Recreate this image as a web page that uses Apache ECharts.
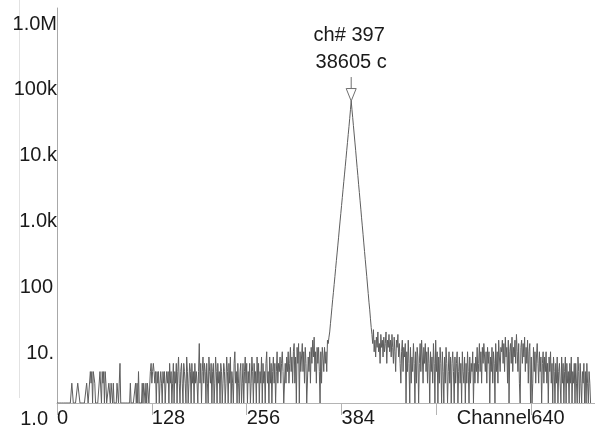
<!DOCTYPE html>
<html>
<head>
<meta charset="utf-8">
<script src="https://cdn.jsdelivr.net/npm/echarts@6/dist/echarts.min.js"></script>
<style>
  html, body { margin: 0; padding: 0; background: #ffffff; }
  #chart { width: 595px; height: 429px; }
</style>
</head>
<body>
<div id="chart"></div>
<script>
// ---- data (counts per channel) ----
// channels 0-149
const lowNoise = [
  1,1,1,1,1,1,1,1,1,1, 1,1,1,1,1,1,1,1,1,1,
  2,2,1,1,1,1,1,1,2,2,
  2,1,1,1,1,1,1,1,1,1,
  2,2,1,1,1,3,2,3,1,3,
  3,2,1,1,1,1,1,1,3,3,
  1,3,2,3,1,3,2,1,1,1,
  2,2,1,2,2,1,2,1,1,1,
  1,2,2,1,2,4,1,1,1,1,
  1,1,1,1,1,1,1,1,1,2,
  1,1,1,1,1,1,2,1,2,1,
  3,1,1,1,1,2,1,2,2,1,
  2,1,2,2,1,1,3,4,2,3,
  4,3,2,3,1,3,2,3,1,2,
  3,2,1,3,2,3,1,2,3,2
];
// channels 150-299
const midNoise = [
  3,1,4,2,3,1,2,4,1,3,
  2,4,1,3,5,2,1,3,4,2,
  1,4,3,2,1,5,3,1,2,4,
  3,1,4,2,3,1,4,2,3,2,
  1,3,8,2,4,1,3,5,2,4,
  3,1,4,2,1,5,3,2,4,1,
  3,4,1,2,5,3,1,4,2,3,
  1,4,3,1,2,4,3,1,2,5,
  3,1,4,2,5,1,3,2,1,4,
  6,2,3,1,4,2,1,3,4,1,
  2,4,1,3,5,2,4,1,3,2,
  4,1,2,5,3,1,4,2,3,1,
  5,2,4,1,3,2,5,1,4,2,
  3,1,4,6,2,3,1,5,2,4,
  1,3,5,2,4,1,3,6,2,4
];
// channels 300-367
const preRise = [
  3,5,2,4,6,3,1,1,4,2,
  5,3,6,2,4,7,3,5,2,6,
  8,2,5,1,7,4,8,1,6,3,
  5,8,3,6,2,7,4,1,1,5,
  3,6,2,7,4,9,5,10,3,6,
  2,7,4,7,3,1,6,2,7,5,
  3,7,4,6,3,9,8,10
];
// channels 368-425 (the peak)
const peak = [
  12,16,21,28,37,48,63,83,110,145,
  190,250,330,440,580,760,1000,1320,1740,2300,
  3000,3950,5200,6900,9100,12000,15800,21000,28500,38605,
  29000,21800,16300,12200,9200,6900,5100,3800,2850,2100,
  1580,1180,880,650,490,365,270,200,150,112,
  84,62,46,34,26,19,14,11
];
// channels 426-599
const tailNoise = [
  8,13,6,9,
  5,10,7,12,6,8,4,11,7,9,
  5,10,6,8,12,4,9,7,11,6,
  9,5,11,7,4,10,6,3,9,7,
  11,5,8,4,2,6,9,3,7,5,
  8,1,6,3,9,4,1,7,2,5,
  3,8,4,1,6,2,7,5,1,4,
  8,3,9,5,2,7,4,8,3,6,
  2,7,4,1,6,3,5,2,8,4,
  1,9,3,6,1,5,2,7,4,1,
  6,3,1,5,2,7,4,1,3,6,
  2,5,1,4,6,3,1,5,2,4,
  6,1,3,5,2,4,1,6,3,2,
  5,1,4,2,6,3,1,5,2,4,
  3,6,1,4,2,5,3,7,2,4,
  8,3,6,2,7,4,8,5,3,6,
  2,7,4,6,1,5,3,7,2,6,
  4,1,8,3,6,2,9,5,3,7
];
// channels 600-720
const highNoise = [
  6,9,4,8,3,10,5,7,2,9,
  1,6,8,4,10,3,7,5,9,4,
  11,6,3,8,2,1,7,9,4,8,
  5,10,3,7,4,9,2,6,8,1,
  5,1,2,7,3,6,2,5,8,4,
  2,6,3,5,1,4,6,2,5,3,
  6,2,4,1,5,3,6,2,4,1,
  5,3,1,4,2,5,1,3,4,2,
  1,5,2,4,1,3,5,1,4,2,
  3,1,4,2,5,1,3,2,4,1,
  4,2,1,5,3,1,4,2,1,3,
  2,4,1,3,1,4,2,1,3,2,
  1
];

const peakChannel = 397;
const peakCount = 38605;

const xTickValues = [0, 128, 256, 384, 512, 640];
const xTickLabels = ['0', '128', '256', '384', '', '640'];
const xAxisName = 'Channel';
const yTickValues = [1, 10, 100, 1000, 10000, 100000, 1000000];
const yTickLabels = ['1.0', '10.', '100', '1.0k', '10.k', '100k', '1.0M'];

// ---- build series ----
const counts = [].concat(lowNoise, midNoise, preRise, peak, tailNoise, highNoise);
const seriesData = counts.map((c, i) => [i, c]);

const FONT = 'Liberation Sans, Arial, sans-serif';
const TXT = '#1a1a1a';
const baseRich = { fontSize: 20, fontFamily: FONT, color: TXT };
const yRightPad = { '1.0': 9, '10.': 3, '100': 4 };

const chart = echarts.init(document.getElementById('chart'), null, { renderer: 'canvas' });

chart.setOption({
  animation: false,
  backgroundColor: '#ffffff',
  grid: { left: 57, right: 0, top: 8, bottom: 24, containLabel: false },
  xAxis: {
    type: 'value',
    min: 0,
    max: 726,
    interval: 128,
    splitLine: { show: false },
    axisLine: { show: true, lineStyle: { color: '#b4b4b4', width: 1 } },
    axisTick: {
      show: true, inside: false, length: 12,
      customValues: xTickValues,
      lineStyle: { color: '#b4b4b4', width: 1 }
    },
    axisLabel: {
      show: true,
      customValues: xTickValues,
      align: 'left',
      verticalAlign: 'top',
      margin: 5,
      fontSize: 20,
      fontFamily: FONT,
      color: TXT,
      showMinLabel: true,
      showMaxLabel: true,
      hideOverlap: false,
      formatter: function (v) {
        const i = xTickValues.indexOf(v);
        return i >= 0 ? xTickLabels[i] : '';
      }
    }
  },
  yAxis: {
    type: 'log',
    logBase: 10,
    min: 1,
    max: 1000000,
    splitLine: { show: false },
    axisLine: { show: true, lineStyle: { color: '#a8a8a8', width: 1 } },
    axisTick: { show: false },
    axisLabel: {
      show: true,
      margin: 0,
      align: 'right',
      verticalAlign: 'top',
      fontSize: 20,
      fontFamily: FONT,
      color: TXT,
      showMinLabel: true,
      showMaxLabel: true,
      formatter: function (v) {
        let idx = -1;
        for (let k = 0; k < yTickValues.length; k++) {
          if (Math.abs(Math.log10(v) - Math.log10(yTickValues[k])) < 1e-6) idx = k;
        }
        if (idx < 0) return '';
        const s = yTickLabels[idx];
        const key = 'p' + (yRightPad[s] || 0);
        return '{' + key + '|' + s + '}';
      },
      rich: {
        p0: Object.assign({ padding: [6, 0, 0, 0] }, baseRich),
        p3: Object.assign({ padding: [6, 3, 0, 0] }, baseRich),
        p4: Object.assign({ padding: [6, 4, 0, 0] }, baseRich),
        p9: Object.assign({ padding: [6, 9, 0, 0] }, baseRich)
      }
    }
  },
  series: [{
    type: 'line',
    data: seriesData,
    showSymbol: false,
    symbol: 'none',
    lineStyle: { color: '#5e5e5e', width: 1 },
    silent: true
  }]
});

// ---- annotation built from the library's scales ----
const p = chart.convertToPixel({ xAxisIndex: 0, yAxisIndex: 0 }, [peakChannel, peakCount]);
const px = p[0], py = p[1];
const ch640 = chart.convertToPixel({ xAxisIndex: 0, yAxisIndex: 0 }, [640, 1]);

chart.setOption({
  graphic: [
    {
      type: 'line', silent: true,
      shape: { x1: 19.5, y1: 0, x2: 19.5, y2: 398 },
      style: { stroke: '#e2e2e2', lineWidth: 1 }
    },
    {
      type: 'line', silent: true,
      shape: { x1: px, y1: py - 24, x2: px, y2: py - 12.5 },
      style: { stroke: '#707070', lineWidth: 1 }
    },
    {
      type: 'polygon', silent: true,
      shape: { points: [[px - 5, py - 12.5], [px + 5, py - 12.5], [px, py]] },
      style: { fill: '#ffffff', stroke: '#707070', lineWidth: 1 }
    },
    {
      type: 'text', silent: true,
      x: px - 2, y: py - 65.5,
      style: {
        text: 'ch# ' + peakChannel,
        fontSize: 20, fontFamily: FONT, fill: TXT,
        align: 'center', verticalAlign: 'middle'
      }
    },
    {
      type: 'text', silent: true,
      x: px, y: py - 39,
      style: {
        text: peakCount + ' c',
        fontSize: 20, fontFamily: FONT, fill: TXT,
        align: 'center', verticalAlign: 'middle'
      }
    },
    {
      type: 'text', silent: true,
      x: ch640[0], y: ch640[1] + 5,
      style: {
        text: xAxisName,
        fontSize: 20, fontFamily: FONT, fill: TXT,
        align: 'right', verticalAlign: 'top'
      }
    }
  ]
});
</script>
</body>
</html>
